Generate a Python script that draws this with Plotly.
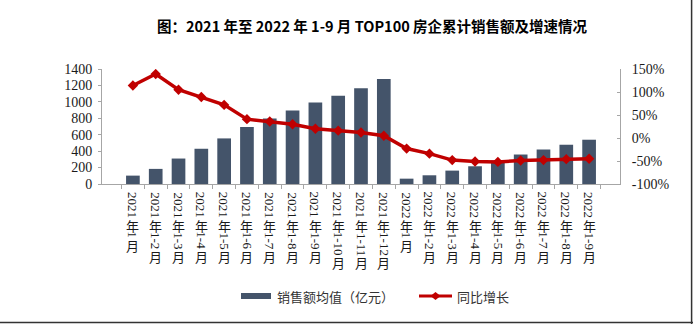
import re
import plotly.graph_objects as go

# Monthly cumulative figures, TOP100 developers
months = ["2021年1月", "2021年1-2月", "2021年1-3月", "2021年1-4月", "2021年1-5月",
          "2021年1-6月", "2021年1-7月", "2021年1-8月", "2021年1-9月", "2021年1-10月",
          "2021年1-11月", "2021年1-12月", "2022年1月", "2022年1-2月", "2022年1-3月",
          "2022年1-4月", "2022年1-5月", "2022年1-6月", "2022年1-7月", "2022年1-8月",
          "2022年1-9月"]
sales_avg = [102, 184, 310, 429, 555, 694, 797, 894, 992, 1073, 1167, 1278,
             65, 106, 163, 216, 285, 359, 420, 478, 539]
yoy_growth = [114, 139, 105, 89, 72, 41, 36, 30, 20, 16, 12, 5,
              -23, -34, -48, -51, -52, -49, -48, -46, -45]

left_ticks = [0, 200, 400, 600, 800, 1000, 1200, 1400]
right_ticks = [-100, -50, 0, 50, 100, 150]
right_tick_text = ["-100%", "-50%", "0%", "50%", "100%", "150%"]

title_text = "图：2021 年至 2022 年 1-9 月 TOP100 房企累计销售额及增速情况"
bar_name = "销售额均值（亿元）"
line_name = "同比增长"

BAR_COLOR = "#44546A"
LINE_COLOR = "#C00000"
AXIS_COLOR = "#A6A6A6"
SERIF = "Liberation Serif"
CJK = "Noto Sans CJK SC"

W, H = 693, 324
ML, MR, MT, MB = 102, 73, 69, 140
PW, PH = W - ML - MR, H - MT - MB


def px_x(x):
    return (x - ML) / PW


def px_y(y):
    return (H - MB - y) / PH


fig = go.Figure()
fig.add_trace(go.Bar(
    x=months, y=sales_avg, name=bar_name, marker_color=BAR_COLOR,
    marker_line_width=0, showlegend=False))
fig.add_trace(go.Scatter(
    x=months, y=yoy_growth, name=line_name, yaxis="y2", mode="lines+markers",
    line=dict(color=LINE_COLOR, width=3.5),
    marker=dict(symbol="diamond", size=8, color=LINE_COLOR),
    showlegend=False))

annotations = []

# Vertical category labels: digit runs turned sideways, CJK characters upright
FD, FC, GAP = 13, 13, 0.5
for m in months:
    parts = re.findall(r"[0-9\-]+|[^0-9\-]", m)
    offset = 8.0
    for p in parts:
        if re.match(r"[0-9\-]", p):
            length = sum(0.333 * FD if c == "-" else 0.5 * FD for c in p)
            angle, size = 90, FD
        else:
            length, angle, size = FC * 1.0, 0, FC
        center = offset + length / 2
        annotations.append(dict(
            x=m, xref="x", y=0, yref="paper", text=p, showarrow=False,
            textangle=angle, xanchor="center", yanchor="middle",
            yshift=-center, font=dict(family=SERIF if angle else CJK,
                                      size=size, color="#1a1a1a")))
        offset += length + GAP

# Title
annotations.append(dict(
    x=px_x(372), y=px_y(25), xref="paper", yref="paper", showarrow=False,
    text="<b>" + title_text + "</b>", xanchor="center", yanchor="middle",
    font=dict(family=CJK, size=14.5, color="#000000")))

# Legend labels
annotations.append(dict(
    x=px_x(275), y=px_y(296), xref="paper", yref="paper", showarrow=False,
    text=bar_name, xanchor="left", yanchor="middle",
    font=dict(family=CJK, size=13, color="#333333")))
annotations.append(dict(
    x=px_x(455), y=px_y(296), xref="paper", yref="paper", showarrow=False,
    text=line_name, xanchor="left", yanchor="middle",
    font=dict(family=CJK, size=13, color="#333333")))

shapes = [
    # legend swatches
    dict(type="rect", xref="paper", yref="paper", x0=px_x(241), x1=px_x(271),
         y0=px_y(299), y1=px_y(293), fillcolor=BAR_COLOR, line_width=0),
    dict(type="line", xref="paper", yref="paper", x0=px_x(419), x1=px_x(452),
         y0=px_y(296), y1=px_y(296), line=dict(color=LINE_COLOR, width=3)),
    dict(type="path", xref="paper", yref="paper", xsizemode="pixel",
         ysizemode="pixel", xanchor=px_x(435.5), yanchor=px_y(296),
         path="M-5,0 L0,4 L5,0 L0,-4 Z", fillcolor=LINE_COLOR, line_width=0),
    # frame on the right and bottom edges
    dict(type="line", xref="paper", yref="paper", x0=px_x(0), x1=px_x(W),
         y0=px_y(322.6), y1=px_y(322.6), line=dict(color="#333333", width=1.5)),
    dict(type="line", xref="paper", yref="paper", x0=px_x(691.6), x1=px_x(691.6),
         y0=px_y(0), y1=px_y(H), line=dict(color="#333333", width=1.5)),
]

fig.update_layout(
    width=W, height=H, autosize=False,
    margin=dict(l=ML, r=MR, t=MT, b=MB, pad=0),
    paper_bgcolor="white", plot_bgcolor="white",
    bargap=0.4, showlegend=False,
    xaxis=dict(type="category", showticklabels=False, ticks="outside",
               tickson="boundaries", ticklen=4, tickcolor=AXIS_COLOR,
               showline=True, linecolor=AXIS_COLOR, linewidth=1,
               showgrid=False, zeroline=False, fixedrange=True),
    yaxis=dict(range=[0, 1400], tickvals=left_ticks, ticks="outside",
               ticklen=3, tickcolor=AXIS_COLOR, showline=True,
               linecolor=AXIS_COLOR, linewidth=1, showgrid=False,
               zeroline=False, ticklabelstandoff=3,
               tickfont=dict(family=SERIF, size=14, color="#1a1a1a")),
    yaxis2=dict(range=[-100, 150], tickvals=right_ticks,
                ticktext=right_tick_text,
                overlaying="y", side="right", ticks="inside", ticklen=3,
                tickcolor=AXIS_COLOR, showline=True, linecolor=AXIS_COLOR,
                linewidth=1, showgrid=False, zeroline=False,
                ticklabelstandoff=8,
                tickfont=dict(family=SERIF, size=14, color="#1a1a1a")),
    annotations=annotations, shapes=shapes,
)

fig.write_html("out.html")
